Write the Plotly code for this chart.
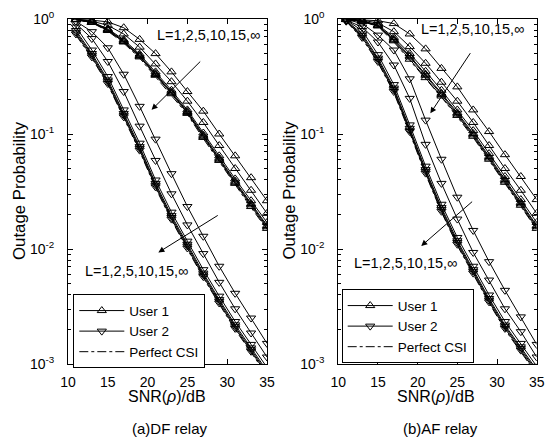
import plotly.graph_objects as go

# ---------------- data ----------------
snr = [11, 13, 15, 17, 19, 21, 23, 25, 27, 29, 31, 33, 35]

# (a) DF relay, User 1 (L = 1, 2, 5, 10, 15, inf) and perfect CSI
df_u1_L1 = [0.993, 0.977, 0.944, 0.84, 0.665, 0.50, 0.347, 0.234, 0.158, 0.100, 0.0646, 0.0417, 0.0263]
df_u1_L2 = [0.991, 0.959, 0.881, 0.741, 0.569, 0.407, 0.285, 0.193, 0.126, 0.0794, 0.0501, 0.0324, 0.0204]
df_u1_L5 = [0.989, 0.942, 0.822, 0.661, 0.495, 0.347, 0.240, 0.162, 0.102, 0.0646, 0.0407, 0.0263, 0.0170]
df_u1_L10 = [0.989, 0.938, 0.809, 0.646, 0.482, 0.335, 0.232, 0.157, 0.0977, 0.0617, 0.0389, 0.0248, 0.0160]
df_u1_L15 = [0.989, 0.936, 0.802, 0.638, 0.475, 0.329, 0.228, 0.154, 0.0955, 0.0603, 0.0380, 0.0242, 0.0156]
df_u1_Linf = [0.989, 0.933, 0.794, 0.631, 0.468, 0.324, 0.224, 0.151, 0.0933, 0.0589, 0.0372, 0.0234, 0.0151]
df_u1_pcsi = [0.986, 0.929, 0.785, 0.617, 0.457, 0.316, 0.219, 0.148, 0.0912, 0.0575, 0.0363, 0.0229, 0.0148]

# (a) DF relay, User 2
df_u2_L1 = [0.955, 0.776, 0.562, 0.331, 0.174, 0.0902, 0.0452, 0.0234, 0.0129, 7.08e-3, 4.12e-3, 2.51e-3, 1.51e-3]
df_u2_L2 = [0.912, 0.676, 0.427, 0.234, 0.117, 0.0589, 0.0302, 0.0162, 9.12e-3, 5.13e-3, 3.02e-3, 1.86e-3, 1.15e-3]
df_u2_L5 = [0.851, 0.537, 0.316, 0.162, 0.0832, 0.0398, 0.0209, 0.0117, 6.61e-3, 3.89e-3, 2.34e-3, 1.48e-3, 9.33e-4]
df_u2_L10 = [0.794, 0.501, 0.295, 0.151, 0.0776, 0.0372, 0.0195, 0.0110, 6.17e-3, 3.63e-3, 2.19e-3, 1.38e-3, 8.71e-4]
df_u2_L15 = [0.767, 0.484, 0.285, 0.146, 0.0750, 0.0359, 0.0188, 0.0106, 5.96e-3, 3.51e-3, 2.11e-3, 1.33e-3, 8.41e-4]
df_u2_Linf = [0.741, 0.468, 0.275, 0.141, 0.0724, 0.0347, 0.0182, 0.0102, 5.75e-3, 3.39e-3, 2.04e-3, 1.29e-3, 8.13e-4]
df_u2_pcsi = [0.724, 0.457, 0.269, 0.138, 0.0708, 0.0339, 0.0178, 9.96e-3, 5.62e-3, 3.31e-3, 1.99e-3, 1.26e-3, 7.94e-4]

# (b) AF relay, User 1
af_u1_L1 = [0.998, 0.989, 0.966, 0.912, 0.741, 0.550, 0.372, 0.257, 0.162, 0.105, 0.0661, 0.0427, 0.0269]
af_u1_L2 = [0.998, 0.977, 0.923, 0.776, 0.575, 0.412, 0.282, 0.193, 0.126, 0.0794, 0.0501, 0.0324, 0.0204]
af_u1_L5 = [0.991, 0.962, 0.891, 0.692, 0.501, 0.351, 0.240, 0.162, 0.107, 0.0676, 0.0427, 0.0269, 0.0170]
af_u1_L10 = [0.989, 0.959, 0.881, 0.668, 0.479, 0.331, 0.226, 0.153, 0.101, 0.0638, 0.0403, 0.0254, 0.0160]
af_u1_L15 = [0.989, 0.957, 0.875, 0.656, 0.468, 0.324, 0.220, 0.149, 0.0982, 0.0619, 0.0391, 0.0247, 0.0156]
af_u1_Linf = [0.989, 0.955, 0.871, 0.646, 0.447, 0.309, 0.214, 0.145, 0.0955, 0.0603, 0.0380, 0.0240, 0.0151]
af_u1_pcsi = [0.986, 0.951, 0.861, 0.631, 0.437, 0.302, 0.209, 0.141, 0.0933, 0.0589, 0.0372, 0.0234, 0.0148]

# (b) AF relay, User 2
af_u2_L1 = [0.993, 0.912, 0.724, 0.537, 0.302, 0.132, 0.0603, 0.0282, 0.0145, 7.76e-3, 4.37e-3, 2.57e-3, 1.48e-3]
af_u2_L2 = [0.977, 0.851, 0.631, 0.398, 0.204, 0.0813, 0.0372, 0.0182, 9.33e-3, 5.37e-3, 3.02e-3, 1.91e-3, 1.15e-3]
af_u2_L5 = [0.977, 0.794, 0.490, 0.269, 0.120, 0.0525, 0.0245, 0.0126, 7.08e-3, 3.98e-3, 2.34e-3, 1.51e-3, 9.55e-4]
af_u2_L10 = [0.970, 0.741, 0.457, 0.251, 0.112, 0.0490, 0.0229, 0.0118, 6.61e-3, 3.71e-3, 2.18e-3, 1.41e-3, 8.91e-4]
af_u2_L15 = [0.962, 0.716, 0.442, 0.243, 0.108, 0.0474, 0.0221, 0.0114, 6.39e-3, 3.59e-3, 2.11e-3, 1.36e-3, 8.61e-4]
af_u2_Linf = [0.957, 0.692, 0.427, 0.234, 0.105, 0.0457, 0.0213, 0.0110, 6.17e-3, 3.47e-3, 2.04e-3, 1.32e-3, 8.32e-4]
af_u2_pcsi = [0.955, 0.676, 0.417, 0.229, 0.102, 0.0447, 0.0209, 0.0107, 6.03e-3, 3.39e-3, 1.99e-3, 1.29e-3, 8.13e-4]

x_ticks = [10, 15, 20, 25, 30, 35]
y_ticks = [1e-3, 1e-2, 1e-1, 1]
y_ticktext = ["10<sup>-3</sup>", "10<sup>-2</sup>", "10<sup>-1</sup>", "10<sup>0</sup>"]
L_text = "L=1,2,5,10,15,\u221e"
legend_names = ["User 1", "User 2", "Perfect CSI"]
panel_titles = ["(a)DF relay", "(b)AF relay"]
x_title = "SNR(<i>\u03c1</i>)/dB"
y_title = "Outage Probability"

# ---------------- figure ----------------
W, H = 547, 440
FONT = "Liberation Sans, Arial, Helvetica, sans-serif"

def px(x):
    return x / W

def py(y):
    return 1 - y / H

fig = go.Figure()

panels = [
    ("x", "y", "legend",
     [df_u1_L1, df_u1_L2, df_u1_L5, df_u1_L10, df_u1_L15, df_u1_Linf], df_u1_pcsi,
     [df_u2_L1, df_u2_L2, df_u2_L5, df_u2_L10, df_u2_L15, df_u2_Linf], df_u2_pcsi),
    ("x2", "y2", "legend2",
     [af_u1_L1, af_u1_L2, af_u1_L5, af_u1_L10, af_u1_L15, af_u1_Linf], af_u1_pcsi,
     [af_u2_L1, af_u2_L2, af_u2_L5, af_u2_L10, af_u2_L15, af_u2_Linf], af_u2_pcsi),
]

MS = 8
for xa, ya, lg, u1, u1p, u2, u2p in panels:
    for users, pcsi, sym, name, rank in ((u1, u1p, "triangle-up-open", legend_names[0], 1),
                                         (u2, u2p, "triangle-down-open", legend_names[1], 2)):
        for i, ys in enumerate(users):
            fig.add_trace(go.Scatter(
                x=snr, y=ys, xaxis=xa, yaxis=ya, mode="lines+markers",
                line=dict(color="black", width=1),
                marker=dict(symbol=sym, size=MS, color="black", line=dict(width=1, color="black")),
                name=name, legend=lg, legendrank=rank,
                showlegend=(i == 0)))
        fig.add_trace(go.Scatter(
            x=snr, y=pcsi, xaxis=xa, yaxis=ya, mode="lines",
            line=dict(color="black", width=1, dash="dashdot"),
            name=legend_names[2], legend=lg, legendrank=3,
            showlegend=(rank == 1)))

xdom = [[px(68), px(267)], [px(338.3), px(536.7)]]
ydom = [py(364), py(19)]
minor_vals = [m * 10 ** e for e in (-3, -2, -1) for m in range(2, 10)]

def xax(dom, anchor):
    return dict(domain=dom, anchor=anchor, range=[10, 35], tickvals=x_ticks,
                ticks="inside", ticklen=5, tickwidth=1, tickcolor="black",
                showline=True, linecolor="black", linewidth=1, mirror="ticks",
                showgrid=False, zeroline=False, tickfont=dict(size=14, family=FONT),
                ticklabelstandoff=5, automargin=False, ticklabeloverflow="allow")

def yax(anchor):
    return dict(domain=ydom, anchor=anchor, type="log", range=[-3, 0],
                tickvals=y_ticks, ticktext=y_ticktext,
                ticks="inside", ticklen=5, tickwidth=1, tickcolor="black",
                minor=dict(tickvals=minor_vals, ticks="inside", ticklen=3, tickcolor="black", tickwidth=1),
                showline=True, linecolor="black", linewidth=1, mirror="ticks",
                showgrid=False, zeroline=False, tickfont=dict(size=14, family=FONT),
                ticklabelstandoff=10, automargin=False, ticklabeloverflow="allow")

leg_common = dict(bgcolor="white", bordercolor="black", borderwidth=1,
                  font=dict(size=13.5, family=FONT), xanchor="left", yanchor="top",
                  itemwidth=45, traceorder="normal", itemclick=False)

fig.update_layout(
    width=W, height=H, margin=dict(l=0, r=0, t=0, b=0, autoexpand=False),
    plot_bgcolor="white", paper_bgcolor="white",
    font=dict(family=FONT, color="black"),
    xaxis=xax(xdom[0], "y"), yaxis=yax("x"),
    xaxis2=xax(xdom[1], "y2"), yaxis2=yax("x2"),
    legend=dict(x=px(73.3), y=py(294.3), **leg_common),
    legend2=dict(x=px(341.7), y=py(289.3), **leg_common),
)

ann = []
# axis titles
for cx, t in ((19.5, y_title), (289, y_title)):
    ann.append(dict(x=px(cx), y=py(190.5), xref="paper", yref="paper", text=t, textangle=-90,
                    showarrow=False, font=dict(size=16.8, family=FONT), xanchor="center", yanchor="middle"))
for cx, t in ((167, x_title), (436, x_title)):
    ann.append(dict(x=px(cx), y=py(396.5), xref="paper", yref="paper", text=t,
                    showarrow=False, font=dict(size=16, family=FONT), xanchor="center", yanchor="middle"))
for cx, t in ((170, panel_titles[0]), (440, panel_titles[1])):
    ann.append(dict(x=px(cx), y=py(428), xref="paper", yref="paper", text=t,
                    showarrow=False, font=dict(size=15, family=FONT), xanchor="center", yanchor="middle"))

# L labels (data coords; log axis -> log10 units)
for xr, yr, xv, yv in (("x", "y", 27.7, -0.139), ("x", "y", 18.6, -2.19),
                       ("x2", "y2", 26.86, -0.087), ("x2", "y2", 18.5, -2.124)):
    ann.append(dict(x=xv, y=yv, xref=xr, yref=yr, text=L_text, showarrow=False,
                    font=dict(size=14.5, family=FONT), xanchor="center", yanchor="middle"))

# arrows
for xr, yr, hx, hy, tx, ty in (("x", "y", 20.5, -0.79, 26.8, -0.357),
                               ("x", "y", 21.35, -2.03, 29.0, -1.70),
                               ("x2", "y2", 21.6, -0.82, 26.76, -0.284),
                               ("x2", "y2", 20.45, -1.974, 27.05, -1.577)):
    ann.append(dict(x=hx, y=hy, xref=xr, yref=yr, ax=tx, ay=ty, axref=xr, ayref=yr,
                    text="", showarrow=True, arrowhead=2, arrowsize=1.2, arrowwidth=1,
                    arrowcolor="black"))

fig.update_layout(annotations=ann)
fig.write_html("out.html", config={"displayModeBar": False, "staticPlot": True},
               post_script="document.body.style.margin='0px';document.body.style.overflow='hidden';")
